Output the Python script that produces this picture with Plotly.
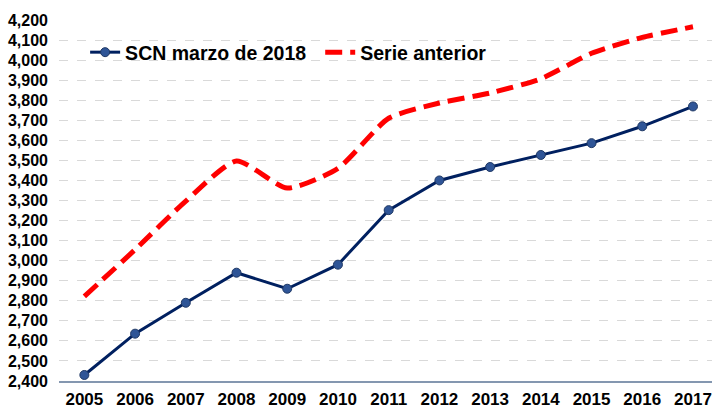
import plotly.graph_objects as go

years = [2005, 2006, 2007, 2008, 2009, 2010, 2011, 2012, 2013, 2014, 2015, 2016, 2017]
scn_2018 = [2430, 2636, 2790, 2940, 2860, 2980, 3252, 3400, 3467, 3527, 3586, 3670, 3769]
serie_anterior = [2822, 3055, 3297, 3497, 3362, 3460, 3710, 3786, 3836, 3907, 4034, 4113, 4166]
y_ticks = list(range(2400, 4201, 100))

fig = go.Figure()
fig.add_trace(go.Scatter(
    x=years, y=scn_2018, name="SCN marzo de 2018", mode="lines+markers",
    line=dict(color="#002060", width=3),
    marker=dict(size=9, color="#2f5597", line=dict(color="#1f3864", width=1)),
    legend="legend",
))
fig.add_trace(go.Scatter(
    x=years, y=serie_anterior, name="Serie anterior", mode="lines",
    line=dict(color="#ff0000", width=5, dash="17px,8px", shape="spline", smoothing=0.6),
    legend="legend2",
))

legend_font = dict(size=19.5, family="Liberation Sans, Arial, sans-serif", weight="bold")
fig.update_layout(
    width=712, height=408,
    margin=dict(l=59, r=0, t=20, b=27),
    paper_bgcolor="white", plot_bgcolor="white",
    font=dict(family="Liberation Sans, Arial, sans-serif", color="black"),
    showlegend=True,
    legend=dict(orientation="h", x=0.04, y=0.91, xanchor="left", yanchor="middle",
                font=legend_font, bgcolor="rgba(0,0,0,0)", itemwidth=30),
    legend2=dict(orientation="h", x=0.40, y=0.91, xanchor="left", yanchor="middle",
                 font=legend_font, bgcolor="rgba(0,0,0,0)", itemwidth=30),
    xaxis=dict(range=[2004.5, 2017.375], tickmode="array", tickvals=years,
               ticktext=[str(y) for y in years], showgrid=False, zeroline=False,
               showline=True, linecolor="#8497b0", linewidth=2,
               tickfont=dict(size=17, weight="bold"), ticks="", ticklabelstandoff=2),
    yaxis=dict(range=[2400, 4200], tickmode="array", tickvals=y_ticks,
               ticktext=[f"{v:,}" for v in y_ticks], showgrid=True,
               gridcolor="#d9d9d9", griddash="dash", gridwidth=1, zeroline=False,
               showline=False, tickfont=dict(size=16, weight="bold"), ticks="",
               ticklabelstandoff=10),
)

fig.write_html("out.html")
